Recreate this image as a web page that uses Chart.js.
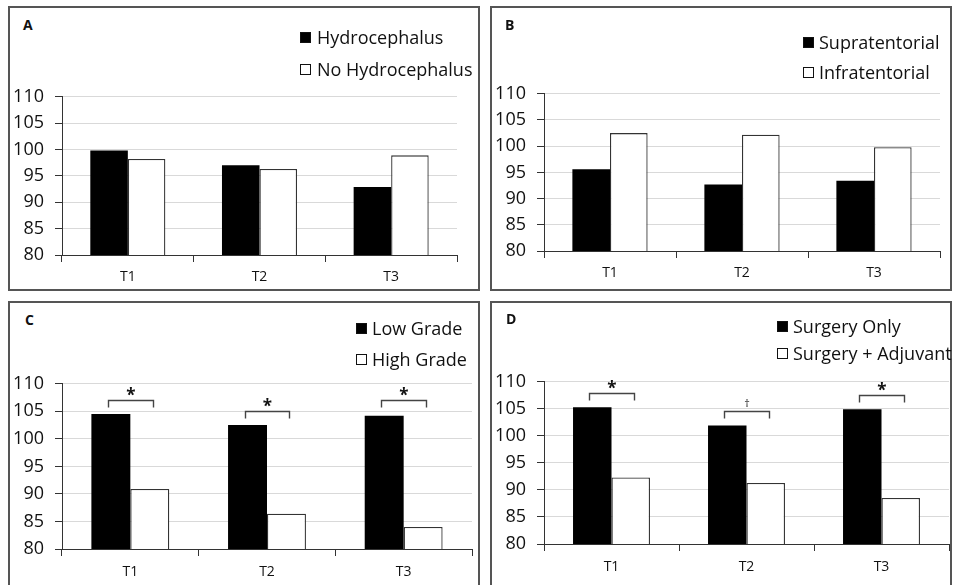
<!DOCTYPE html>
<html><head><meta charset="utf-8">
<script src="https://cdn.jsdelivr.net/npm/chart.js@4.4.1/dist/chart.umd.min.js"></script>
<style>
html,body{margin:0;padding:0;background:#fff;overflow:hidden;width:953px;height:585px;}
body{position:relative;font-family:'Open Sans',sans-serif;color:#111;}
.panel{position:absolute;box-sizing:border-box;border:2px solid #555;background:#fff;}
.letter{position:absolute;font-weight:700;font-size:14px;line-height:1;}
.lg{position:absolute;font-size:18px;line-height:1;white-space:nowrap;}
.lg .sq{position:absolute;left:0;top:4px;width:11px;height:11px;box-sizing:border-box;border:1.3px solid #111;}
.lg .tx{position:absolute;top:0;}
canvas{position:absolute;}
</style></head><body>
<script>
// ---- data ----
const categories = ['T1', 'T2', 'T3'];
const yTickValues = [80, 85, 90, 95, 100, 105, 110];

const namesA = ['Hydrocephalus', 'No Hydrocephalus'];
const hydrocephalus = [99.8, 97.0, 92.9];
const noHydrocephalus = [98.2, 96.3, 98.9];

const namesB = ['Supratentorial', 'Infratentorial'];
const supratentorial = [95.6, 92.7, 93.4];
const infratentorial = [102.5, 102.2, 99.8];

const namesC = ['Low Grade', 'High Grade'];
const lowGrade = [104.5, 102.5, 104.2];
const highGrade = [90.9, 86.4, 84.0];

const namesD = ['Surgery Only', 'Surgery + Adjuvant'];
const surgeryOnly = [105.3, 101.9, 104.9];
const surgeryAdjuvant = [92.3, 91.3, 88.5];

const sigLevelsC = [107.0, 105.1, 107.0];
const sigMarksC = ['*', '*', '*'];
const sigLevelsD = [107.9, 104.6, 107.6];
const sigMarksD = ['*', '\u2020', '*'];

// ---- layout ----
const panels = [
  {letter:'A', box:[8,6,472,285], letterPos:[23,17.6], sqX:300, txX:317, rows:[28,60],
   plot:{l:62,r:457,t:91,b:255}, xPad:7, names:namesA, series:[hydrocephalus,noHydrocephalus]},
  {letter:'B', box:[490,6,462,285], letterPos:[505,17.6], sqX:803, txX:819, rows:[33,63],
   plot:{l:544,r:940,t:88,b:251}, xPad:7, names:namesB, series:[supratentorial,infratentorial]},
  {letter:'C', box:[8,301,472,300], letterPos:[25,312.6], sqX:356, txX:372, rows:[319,350],
   plot:{l:62,r:472,t:378,b:549}, xPad:8, names:namesC, series:[lowGrade,highGrade],
   sig:{levels:sigLevelsC, marks:sigMarksC}},
  {letter:'D', box:[490,301,462,300], letterPos:[506,312], sqX:777, txX:793, rows:[317,344],
   plot:{l:544,r:949,t:376,b:544}, xPad:8, names:namesD, series:[surgeryOnly,surgeryAdjuvant],
   sig:{levels:sigLevelsD, marks:sigMarksD}}
];

const sigPlugin = {
  id: 'sig',
  afterDatasetsDraw(chart, args, opts) {
    if (!opts || !opts.levels) return;
    const ctx = chart.ctx, ys = chart.scales.y;
    const m0 = chart.getDatasetMeta(0), m1 = chart.getDatasetMeta(1);
    ctx.save();
    ctx.strokeStyle = '#444'; ctx.lineWidth = 1.4; ctx.fillStyle = '#111';
    opts.levels.forEach((lv, i) => {
      const x1 = Math.round(m0.data[i].x - 3) + 0.5, x2 = Math.round(m1.data[i].x + 3) + 0.5;
      const y = Math.round(ys.getPixelForValue(lv)) + 0.5;
      ctx.beginPath();
      ctx.moveTo(x1, y + 7); ctx.lineTo(x1, y); ctx.lineTo(x2, y); ctx.lineTo(x2, y + 7);
      ctx.stroke();
      const s = opts.marks[i];
      const star = s === '*';
      ctx.font = star ? "bold 17px 'Open Sans'" : "11px 'Open Sans'";
      ctx.textAlign = 'center'; ctx.textBaseline = 'alphabetic';
      const mt = ctx.measureText(s);
      const cy = y - 9;
      ctx.fillText(s, (x1 + x2) / 2, cy + (mt.actualBoundingBoxAscent - mt.actualBoundingBoxDescent) / 2);
    });
    ctx.restore();
  }
};

function el(tag, cls, style, text) {
  const e = document.createElement(tag);
  if (cls) e.className = cls;
  Object.assign(e.style, style || {});
  if (text != null) e.textContent = text;
  document.body.appendChild(e);
  return e;
}

panels.forEach(p => {
  el('div', 'panel', {left:p.box[0]+'px', top:p.box[1]+'px', width:p.box[2]+'px', height:p.box[3]+'px'});
});

panels.forEach(p => {
  const cL = p.box[0] + 2, cR = Math.min(p.box[0] + p.box[2] - 2, 953);
  const cT = p.plot.t - 16, cB = p.plot.b + 34;
  const cv = el('canvas', null, {left:cL+'px', top:cT+'px'});
  cv.width = cR - cL; cv.height = cB - cT;
  const yW = p.plot.l - cL, xH = cB - p.plot.b;
  new Chart(cv.getContext('2d'), {
    type: 'bar',
    data: {
      labels: categories,
      datasets: [
        {label:p.names[0], data:p.series[0], backgroundColor:'#000', borderColor:'#000', borderWidth:0,
         categoryPercentage:0.57, barPercentage:1.0},
        {label:p.names[1], data:p.series[1], backgroundColor:'#fff', borderColor:'#333', borderWidth:1.3,
         categoryPercentage:0.57, barPercentage:1.0}
      ]
    },
    options: {
      responsive:false, animation:false, devicePixelRatio:1,
      layout:{padding:{top:p.plot.t - cT, right:cR - p.plot.r, left:0, bottom:0}},
      plugins:{legend:{display:false}, tooltip:{enabled:false}, sig:p.sig || {}},
      scales:{
        x:{
          grid:{offset:true, drawOnChartArea:false, drawTicks:true, tickLength:7, tickColor:'#333', lineWidth:1},
          border:{display:true, color:'#333', width:1},
          ticks:{font:{family:'Open Sans', size:14}, color:'#111', padding:p.xPad, maxRotation:0},
          afterFit(s){ s.height = xH; }
        },
        y:{
          min:yTickValues[0], max:yTickValues[yTickValues.length-1],
          afterBuildTicks(s){ s.ticks = yTickValues.map(v => ({value:v})); },
          grid:{color:'#d9d9d9', lineWidth:1, drawTicks:true, tickLength:7, tickColor:'#333'},
          border:{display:true, color:'#333', width:1},
          ticks:{font:{family:'Open Sans', size:18}, color:'#111', padding:11},
          afterFit(s){ s.width = yW; }
        }
      }
    },
    plugins:[sigPlugin]
  });

  el('div', 'letter', {left:p.letterPos[0]+'px', top:p.letterPos[1]+'px'}, p.letter);
  p.names.forEach((n, i) => {
    const row = el('div', 'lg', {left:p.sqX+'px', top:p.rows[i]+'px'});
    const sq = document.createElement('div'); sq.className = 'sq';
    sq.style.background = i === 0 ? '#000' : '#fff';
    row.appendChild(sq);
    const tx = document.createElement('span'); tx.className = 'tx';
    tx.style.left = (p.txX - p.sqX) + 'px'; tx.textContent = n;
    row.appendChild(tx);
  });
});
</script>
</body></html>
